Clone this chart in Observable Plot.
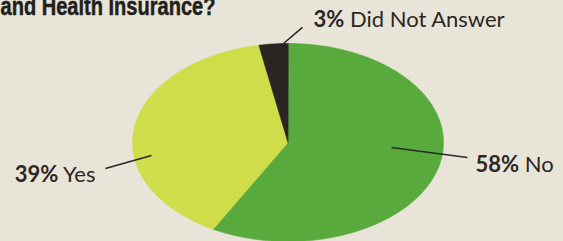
<!DOCTYPE html>
<html><head><meta charset="utf-8">
<script src="https://cdn.jsdelivr.net/npm/d3@7"></script>
<script src="https://cdn.jsdelivr.net/npm/@observablehq/plot@0.6"></script>
<style>
html,body{margin:0;padding:0;background:#e8e4d7;}
#chart{width:563px;height:241px;overflow:hidden;}
#chart svg{display:block;}
</style></head><body><div id="chart"></div>
<script>
const answers = ["No", "Yes", "Did Not Answer"];
const percents = [58, 39, 3];
const sliceColors = ["#58aa3c", "#cfdd4b", "#2a2522"];
const title = "and Health Insurance?";
// annotation layout, in pie units (x, y in [-1, 1], y pointing up)
const leaderInner = [[0.666, -0.05], [-0.878, -0.131], [-0.029, 1.0]];
const leaderOuter = [[1.154, -0.152], [-1.174, -0.263], [0.093, 1.162]];
const labelAt = [[1.206, -0.303], [-1.238, -0.399], [0.164, 1.162]];
const labelSide = ["start", "end", "start"];

const arcs = d3.pie().sort(null).value(d => d)(percents);
const pts = [];
arcs.forEach((p, i) => {
  pts.push({k: answers[i], x: 0, y: 0});
  const n = Math.max(4, Math.ceil((p.endAngle - p.startAngle) / 0.01));
  for (let j = 0; j <= n; j++) {
    const a = p.startAngle + (p.endAngle - p.startAngle) * j / n;
    pts.push({k: answers[i], x: Math.sin(a), y: Math.cos(a)});
  }
});
const idx = d3.range(answers.length);
const labelText = i => `${percents[i]}% ${answers[i]}`;
const labelFont = {fontFamily: "Lato, 'Open Sans', sans-serif", fontSize: 22, fill: "#2b2724", lineAnchor: "bottom"};

const plot = Plot.plot({
  width: 563, height: 241, margin: 0,
  style: {background: "transparent", overflow: "visible"},
  x: {domain: [-1, 1], range: [132, 443], axis: null},
  y: {domain: [-1, 1], range: [241, 43], axis: null},
  color: {domain: answers, range: sliceColors},
  marks: [
    Plot.line(pts, {x: "x", y: "y", z: "k", fill: "k", stroke: "k", strokeWidth: 0.6, curve: "linear-closed"}),
    Plot.link(idx, {x1: i => leaderInner[i][0], y1: i => leaderInner[i][1], x2: i => leaderOuter[i][0], y2: i => leaderOuter[i][1], stroke: "#2b2724", strokeWidth: 1.6}),
    Plot.text(idx.filter(i => labelSide[i] === "start"), {x: i => labelAt[i][0], y: i => labelAt[i][1], text: labelText, textAnchor: "start", ...labelFont}),
    Plot.text(idx.filter(i => labelSide[i] === "end"), {x: i => labelAt[i][0], y: i => labelAt[i][1], text: labelText, textAnchor: "end", ...labelFont}),
    Plot.text([title], {frameAnchor: "top-left", lineAnchor: "bottom", dy: 14, text: d => d, fontFamily: "'Liberation Sans Narrow', 'Liberation Sans', sans-serif", fontWeight: "bold", fontSize: 26, fill: "#221e1b", stroke: "#221e1b", strokeWidth: 0.5})
  ]
});
document.getElementById("chart").appendChild(plot);
d3.select(plot).selectAll("text").each(function() {
  const t = this.textContent;
  if (t === title) {
    // condensed headline face
    this.setAttribute("textLength", 215);
    this.setAttribute("lengthAdjust", "spacingAndGlyphs");
    return;
  }
  const m = /^(\d+%)\s(.*)$/.exec(t);
  if (!m) return;
  const s = d3.select(this);
  s.text(null);
  s.append("tspan").attr("font-weight", "bold").text(m[1]);
  s.append("tspan").text(" " + m[2]);
});
</script>
</body></html>
